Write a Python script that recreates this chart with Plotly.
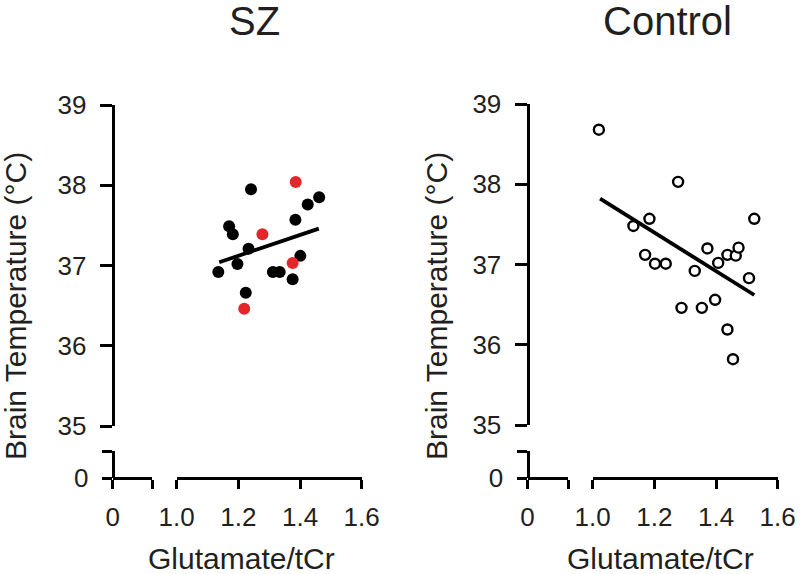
import plotly.graph_objects as go

W, H = 800, 574

# ---------------- data ----------------
sz_black_x = [1.135, 1.170, 1.182, 1.241, 1.233, 1.197, 1.224, 1.312, 1.334,
              1.376, 1.401, 1.385, 1.425, 1.462]
sz_black_y = [36.92, 37.49, 37.39, 37.95, 37.21, 37.02, 36.66, 36.92, 36.92,
              36.83, 37.12, 37.57, 37.76, 37.85]
sz_red_x = [1.386, 1.278, 1.376, 1.219]
sz_red_y = [38.04, 37.39, 37.03, 36.46]
sz_fit_x = [1.138, 1.461]
sz_fit_y = [37.04, 37.46]

ctrl_x = [1.020, 1.277, 1.184, 1.132, 1.170, 1.202, 1.237, 1.331, 1.372, 1.407,
          1.437, 1.464, 1.473, 1.524, 1.507, 1.288, 1.354, 1.397, 1.437, 1.455]
ctrl_y = [38.68, 38.03, 37.57, 37.48, 37.12, 37.01, 37.01, 36.92, 37.20, 37.02,
          37.12, 37.11, 37.21, 37.57, 36.83, 36.46, 36.46, 36.56, 36.19, 35.82]
ctrl_fit_x = [1.024, 1.524]
ctrl_fit_y = [37.82, 36.62]

x_tick_vals = [1.0, 1.2, 1.4, 1.6]
x_tick_text = ["1.0", "1.2", "1.4", "1.6"]
y_tick_vals = [35, 36, 37, 38, 39]
y_tick_text = ["35", "36", "37", "38", "39"]
stub_tick_text = ["0", ""]
x_range = [1.0, 1.6]
y_range = [35, 39]
stub_range = [0, 1]

panel_titles = ["SZ", "Control"]
x_title = "Glutamate/tCr"
y_title = "Brain Temperature (°C)"

# ---------------- layout geometry (pixels) ----------------
FONT = "Liberation Sans, Arial, sans-serif"
TXT = "#231f20"
BLACK = "#000000"
RED = "#e3262a"


def fx(p):
    return p / W


def fy(p):
    return 1 - p / H


panels = [
    dict(ax=112.7, x10=176.7, x16=361.7, y39=105, y35=426, sx_end=152.0,
         sy_top=451.0, base=478.0, title_x=254, ylab_x=16, xlab_x=241),
    dict(ax=527.5, x10=592.7, x16=777.7, y39=104, y35=425, sx_end=568.3,
         sy_top=451.0, base=478.0, title_x=667.5, ylab_x=437, xlab_x=660),
]

fig = go.Figure()
layout = dict(width=W, height=H,
              margin=dict(l=0, r=0, t=0, b=0, pad=0, autoexpand=False),
              paper_bgcolor="white", plot_bgcolor="rgba(0,0,0,0)",
              showlegend=False, font=dict(family=FONT, color=TXT))

base_axis = dict(showgrid=False, zeroline=False, linecolor=BLACK, linewidth=3,
                 tickcolor=BLACK, tickwidth=3, fixedrange=True, automargin=False,
                 tickfont=dict(family=FONT, size=26, color=TXT))


def axname(kind, n):
    return f"{kind}axis" if n == 1 else f"{kind}axis{n}"


def ref(kind, n):
    return kind if n == 1 else f"{kind}{n}"


annotations = []
for i, p in enumerate(panels):
    k = 1 + 4 * i  # main
    ks, kc, ksc = k + 1, k + 2, k + 3  # stub, main caps, stub caps
    xpos = fx(p["ax"])
    ypos = fy(p["base"])
    main_xd = [fx(p["x10"]), fx(p["x16"])]
    main_yd = [fy(p["y35"]), fy(p["y39"])]
    stub_xd = [fx(p["ax"]), fx(p["sx_end"])]
    stub_yd = [fy(p["base"]), fy(p["sy_top"])]

    # main axes
    layout[axname("x", k)] = dict(base_axis, domain=main_xd, range=x_range,
                                  anchor="free", position=ypos, showline=True,
                                  ticks="outside", ticklen=9,
                                  tickvals=x_tick_vals, ticktext=x_tick_text,
                                  ticklabelstandoff=6)
    layout[axname("y", k)] = dict(base_axis, domain=main_yd, range=y_range,
                                  anchor="free", position=xpos, showline=True,
                                  ticks="outside", ticklen=12,
                                  tickvals=y_tick_vals, ticktext=y_tick_text,
                                  ticklabelstandoff=8)
    # stub axes (the "0" segments of the broken axes)
    layout[axname("x", ks)] = dict(base_axis, domain=stub_xd, range=stub_range,
                                   anchor="free", position=ypos, showline=True,
                                   ticks="outside", ticklen=9,
                                   tickvals=[0, 1], ticktext=stub_tick_text,
                                   ticklabelstandoff=6)
    layout[axname("y", ks)] = dict(base_axis, domain=stub_yd, range=stub_range,
                                   anchor="free", position=xpos, showline=True,
                                   ticks="outside", ticklen=10,
                                   tickvals=[0, 1], ticktext=stub_tick_text,
                                   ticklabelstandoff=8)
    # end caps (ticks pointing inward at segment ends)
    layout[axname("x", kc)] = dict(base_axis, domain=main_xd, range=x_range,
                                   anchor="free", position=ypos, showline=False,
                                   ticks="inside", ticklen=6,
                                   tickvals=[x_range[0], x_range[1]],
                                   showticklabels=False)
    layout[axname("y", kc)] = dict(base_axis, domain=main_yd, range=y_range,
                                   anchor="free", position=xpos, showline=False,
                                   ticks="inside", ticklen=6,
                                   tickvals=[y_range[0], y_range[1]],
                                   showticklabels=False)
    layout[axname("x", ksc)] = dict(base_axis, domain=stub_xd, range=stub_range,
                                    anchor="free", position=ypos, showline=False,
                                    ticks="inside", ticklen=6,
                                    tickvals=[1], showticklabels=False)
    layout[axname("y", ksc)] = dict(base_axis, domain=stub_yd, range=stub_range,
                                    anchor="free", position=xpos, showline=False,
                                    ticks="inside", ticklen=7,
                                    tickvals=[1], showticklabels=False)

    # empty traces so that every axis pair is drawn
    for kk in (ks, kc, ksc):
        fig.add_trace(go.Scatter(x=[], y=[], xaxis=ref("x", kk), yaxis=ref("y", kk),
                                 hoverinfo="skip", showlegend=False))

    annotations.append(dict(text=panel_titles[i], x=fx(p["title_x"]), y=fy(21),
                            xref="paper", yref="paper", showarrow=False,
                            xanchor="center", yanchor="middle",
                            font=dict(family=FONT, size=40, color=TXT)))
    annotations.append(dict(text=x_title, x=fx(p["xlab_x"]), y=fy(558),
                            xref="paper", yref="paper", showarrow=False,
                            xanchor="center", yanchor="middle",
                            font=dict(family=FONT, size=30, color=TXT)))
    annotations.append(dict(text=y_title, x=fx(p["ylab_x"]), y=fy(306),
                            xref="paper", yref="paper", showarrow=False,
                            xanchor="center", yanchor="middle", textangle=-90,
                            font=dict(family=FONT, size=30, color=TXT)))

# ---------------- data traces ----------------
fig.add_trace(go.Scatter(x=sz_black_x, y=sz_black_y, mode="markers",
                         xaxis="x", yaxis="y", cliponaxis=False,
                         marker=dict(size=12, color=BLACK, line=dict(width=0))))
fig.add_trace(go.Scatter(x=sz_red_x, y=sz_red_y, mode="markers",
                         xaxis="x", yaxis="y", cliponaxis=False,
                         marker=dict(size=12, color=RED, line=dict(width=0))))
fig.add_trace(go.Scatter(x=sz_fit_x, y=sz_fit_y, mode="lines",
                         xaxis="x", yaxis="y", cliponaxis=False,
                         line=dict(color=BLACK, width=3.8)))

fig.add_trace(go.Scatter(x=ctrl_x, y=ctrl_y, mode="markers",
                         xaxis="x5", yaxis="y5", cliponaxis=False,
                         marker=dict(size=10, color="white",
                                     line=dict(width=2.4, color=BLACK))))
fig.add_trace(go.Scatter(x=ctrl_fit_x, y=ctrl_fit_y, mode="lines",
                         xaxis="x5", yaxis="y5", cliponaxis=False,
                         line=dict(color=BLACK, width=3.8)))

layout["annotations"] = annotations
fig.update_layout(**layout)
fig.write_html(
    "out.html",
    config={"displayModeBar": False, "staticPlot": True},
    post_script=("document.body.style.margin='0px';"
                 "document.body.style.overflow='hidden';"
                 "document.documentElement.style.overflow='hidden';"),
)
